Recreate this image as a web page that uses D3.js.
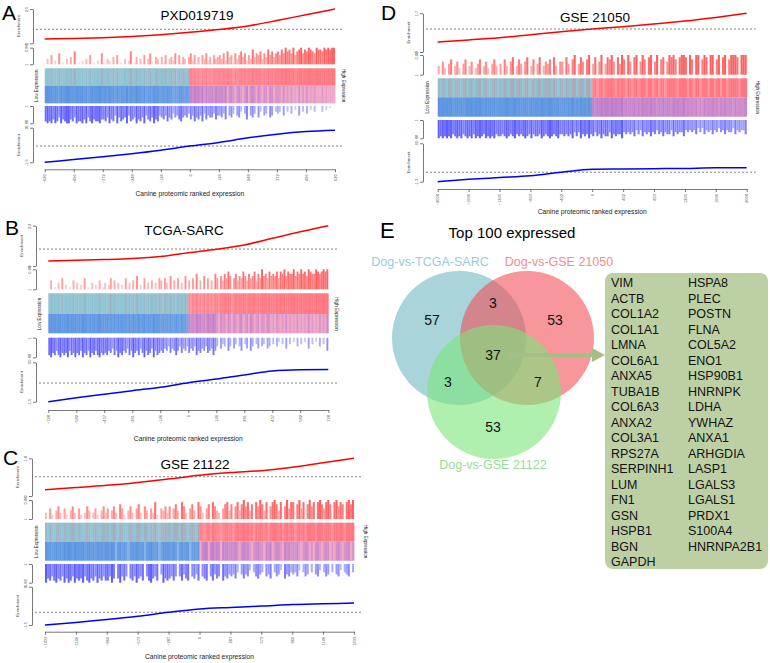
<!DOCTYPE html>
<html><head><meta charset="utf-8">
<script src="https://cdn.jsdelivr.net/npm/d3@7"></script>
<style>body{margin:0;background:#fff}svg{display:block;font-family:"Liberation Sans",Arial,sans-serif}</style>
</head><body><svg id="c" width="770" height="663"></svg>
<script>
// ---------------- DATA ----------------
const panelLetters = ["A", "B", "C", "D"];
const panelTitles = ["PXD019719", "TCGA-SARC", "GSE 21122", "GSE 21050"];
const xLabel = "Canine proteomic ranked expression";

const xTicksA = [-620, -496, -372, -248, -124, 0, 124, 248, 372, 496, 620];
const xTicksB = [-728, -582, -437, -291, -146, 0, 146, 291, 437, 582, 728];
const xTicksC = [-1433, -1146, -860, -573, -287, 0, 287, 573, 860, 1146, 1433];
const xTicksD = [-2008, -1606, -1205, -803, -402, 0, 402, 803, 1205, 1606, 2008];

// enrichment curves (value at each x tick)
const upCurveA = [0.32, 0.35, 0.41, 0.50, 0.63, 0.80, 1.00, 1.26, 1.66, 2.08, 2.50];
const downCurveA = [-1.60, -1.47, -1.34, -1.20, -1.04, -0.85, -0.68, -0.47, -0.30, -0.18, -0.12];
const upCurveB = [0.30, 0.34, 0.38, 0.44, 0.56, 0.79, 1.00, 1.25, 1.65, 2.04, 2.40];
const downCurveB = [-1.50, -1.35, -1.22, -1.08, -0.95, -0.78, -0.64, -0.48, -0.33, -0.28, -0.27];
const upCurveC = [0.30, 0.40, 0.51, 0.65, 0.81, 0.99, 1.12, 1.21, 1.37, 1.59, 1.80];
const downCurveC = [-1.50, -1.40, -1.28, -1.16, -1.00, -0.87, -0.81, -0.76, -0.70, -0.67, -0.64];
const upCurveD = [0.44, 0.53, 0.63, 0.76, 0.89, 1.01, 1.11, 1.23, 1.36, 1.52, 1.70];
const downCurveD = [-1.30, -1.22, -1.16, -1.10, -0.98, -0.88, -0.87, -0.86, -0.85, -0.83, -0.83];

const upMax = [2.5, 2.4, 1.8, 1.7];
const downMin = [-1.6, -1.5, -1.5, -1.3];
const upDash = [1.02, 1.01, 0.92, 1.01];
const downDash = [-0.85, -0.79, -1.0, -0.98];
const upTickLabels = [["0", "2.5"], ["0", "2.4"], ["0", "1.8"], ["0", "1.7"]];
const downTickLabels = [["-1.6", "0"], ["-1.5", "0"], ["-1.5", "0"], ["-1.3", "0"]];
const barTickLabels = ["1", "0.88"];

// barcode heights (0-9), read left to right along the ranking
const redBarsA = "030502060103040701020305010206" + "103204050103027014030503610430" + "415034260514304625140536241534" + "536274516357462538465736485746" + "758697869578968798769887989899";
const blueBarsA = "898979869789978698897968978897" + "786978596876958769786957869785" + "675867465786564758675847566475" + "564705640563047056406305406503" + "430503040205030402030003020100";
const redBarsB = "040103050201040302050103020401" + "302504030205030406020503040305" + "405306040503060405070406050407" + "506475860574658647568475967586" + "768587968779687978698779878989";
const blueBarsB = "897868978796879786978697868978" + "786758697867586976857968759687" + "675647568647564756486756476586" + "405340640530460350640350430540" + "304203050302040302050302040306";
const redBarsC = "305204630520463052036403520463" + "504630752046305730640538205463" + "605740863057408630570864305784" + "706847968470869748068974806958" + "807958079680897589708968708979";
const blueBarsC = "978689786979869787968978697868" + "869707968607869768068976805978" + "768606857806758067806857608675" + "657405756304675406570465307564" + "546304650405630465040563045604";
const redBarsD = "406305704630570460357046305740" + "507406804750680470580465708406" + "608507905860790580690587960859" + "709608906970890690780698970899" + "809709907980990790890799980999";
const blueBarsD = "989898978989789897989879898978" + "878987897878987978879878987897" + "787879686978797868797886978779" + "676768575867686757686775867668" + "565657464756575646575664756557";

// Venn (top 100 expressed)
const vennTitle = "Top 100 expressed";
const vennSets = ["Dog-vs-TCGA-SARC", "Dog-vs-GSE 21050", "Dog-vs-GSE 21122"];
const vennCounts = { T: 57, D: 53, C: 53, TD: 3, TC: 3, DC: 7, TDC: 37 };
const genesCol1 = ["VIM","ACTB","COL1A2","COL1A1","LMNA","COL6A1","ANXA5","TUBA1B","COL6A3","ANXA2","COL3A1","RPS27A","SERPINH1","LUM","FN1","GSN","HSPB1","BGN","GAPDH"];
const genesCol2 = ["HSPA8","PLEC","POSTN","FLNA","COL5A2","ENO1","HSP90B1","HNRNPK","LDHA","YWHAZ","ANXA1","ARHGDIA","LASP1","LGALS3","LGALS1","PRDX1","S100A4","HNRNPA2B1"];

// ---------------- LAYOUT ----------------
const layouts = [
  {axisX:33, x0:44.7, x1:335, cu:[9,43.3], rb:[47.7,64.3], hm:[68.3,85.7,103.3], bb:[106,123.3], cd:[127.7,162.3], xa:169.3, xl:196, title:[197,20], letter:[2,20], low:38, high:342},
  {axisX:36, x0:48.3, x1:328.3, cu:[225.7,266], rb:[269.3,289.3], hm:[293.3,314,333.3], bb:[337.7,357.3], cd:[362.3,401.7], xa:410, xl:441, title:[184,235], letter:[5,235], low:41, high:335},
  {axisX:32, x0:45, x1:354, cu:[458.3,496], rb:[500,519], hm:[522.7,541.7,560.7], bb:[564,582.7], cd:[586.7,625], xa:631.7, xl:659, title:[195,469], letter:[3,465], low:38, high:364},
  {axisX:423, x0:437.7, x1:746.7, cu:[13.3,52], rb:[55,74.7], hm:[78.3,97.3,116.7], bb:[120,138.3], cd:[143.3,181.7], xa:189, xl:214, title:[595,22], letter:[381,20], low:429, high:756}
];

const panels = [
  {ticks:xTicksA, up:upCurveA, down:downCurveA, red:redBarsA, blue:blueBarsA},
  {ticks:xTicksB, up:upCurveB, down:downCurveB, red:redBarsB, blue:blueBarsB},
  {ticks:xTicksC, up:upCurveC, down:downCurveC, red:redBarsC, blue:blueBarsC},
  {ticks:xTicksD, up:upCurveD, down:downCurveD, red:redBarsD, blue:blueBarsD}
];

const svg = d3.select("#c");
const axisCol = "#555";

function styleAxis(sel) {
  sel.selectAll("path,line").attr("stroke", axisCol).attr("stroke-width", 0.8);
  sel.selectAll("text").attr("fill", "#555").attr("font-size", 4);
}
function rotYLabels(sel) {
  sel.selectAll("text").attr("x", null).attr("dy", null).attr("text-anchor", "middle")
     .attr("transform", "translate(-5,0) rotate(-90)");
}

const redScale = d3.interpolateRgb("rgb(255,232,232)", "rgb(255,95,95)");
const blueScale = d3.interpolateRgb("rgb(232,232,255)", "rgb(95,95,255)");

panels.forEach((p, k) => {
  const L = layouts[k];
  const g = svg.append("g");
  const n = p.ticks.length;
  const x = d3.scaleLinear().domain([p.ticks[0], p.ticks[n - 1]]).range([L.x0, L.x1]);

  g.append("text").attr("x", L.letter[0]).attr("y", L.letter[1]).attr("font-size", 21).text(panelLetters[k]);
  g.append("text").attr("x", L.title[0]).attr("y", L.title[1]).attr("text-anchor", "middle").attr("font-size", 13.5).text(panelTitles[k]);

  // --- upper enrichment curve
  const yU = d3.scaleLinear().domain([0, upMax[k]]).range([L.cu[1], L.cu[0]]);
  const axU = g.append("g").attr("transform", `translate(${L.axisX},0)`)
    .call(d3.axisLeft(yU).tickValues([0, upMax[k]]).tickFormat((d, i) => upTickLabels[k][i]).tickSize(3).tickSizeOuter(0));
  styleAxis(axU); rotYLabels(axU);
  g.append("text").attr("transform", `translate(${L.axisX - 13},${(L.cu[0] + L.cu[1]) / 2}) rotate(-90)`)
    .attr("text-anchor", "middle").attr("font-size", 4.3).attr("fill", "#444").text("Enrichment");
  g.append("line").attr("x1", L.axisX + 3).attr("x2", L.x1 + 9).attr("y1", yU(upDash[k])).attr("y2", yU(upDash[k]))
    .attr("stroke", "#666").attr("stroke-width", 0.8).attr("stroke-dasharray", "2,2");
  g.append("path").datum(p.ticks.map((t, i) => [t, p.up[i]]))
    .attr("d", d3.line().x(d => x(d[0])).y(d => yU(d[1])).curve(d3.curveMonotoneX))
    .attr("fill", "none").attr("stroke", "#ff0000").attr("stroke-width", 1.5);

  // --- red barcode
  const redH = p.red.split("").map(Number);
  const blueH = p.blue.split("").map(Number);
  const nb = redH.length;
  const pos = i => p.ticks[0] + (i + 0.5) / nb * (p.ticks[n - 1] - p.ticks[0]);
  const sw = (L.x1 - L.x0) / nb;
  const yRB = d3.scaleLinear().domain([0, 9]).range([L.rb[1], L.rb[0]]);
  const axRB = g.append("g").attr("transform", `translate(${L.axisX},0)`)
    .call(d3.axisLeft(yRB).tickValues([0, 9]).tickFormat((d, i) => barTickLabels[i]).tickSize(3).tickSizeOuter(0));
  styleAxis(axRB); rotYLabels(axRB);
  g.append("g").selectAll("rect").data(redH.map((h, i) => ({h, i})).filter(d => d.h > 0)).join("rect")
    .attr("x", d => x(pos(d.i)) - sw * 0.5).attr("width", sw)
    .attr("y", d => yRB(d.h)).attr("height", d => yRB(0) - yRB(d.h))
    .attr("fill", d => redScale(d.h / 9));

  // --- heat map
  const cyan = "rgb(140,200,215)", mauve = "rgb(200,140,155)";
  const redC = "rgb(255,118,128)", pinkL = "rgb(255,175,182)";
  const blueC = "rgb(92,148,225)", blueL = "rgb(150,195,232)";
  const pinkC = "rgb(240,168,198)", purp = "rgb(185,122,205)";
  g.append("g").selectAll("rect").data(redH).join("rect")
    .attr("x", (d, i) => x(pos(i)) - sw / 2).attr("width", sw + 0.4)
    .attr("y", L.hm[0]).attr("height", L.hm[1] - L.hm[0])
    .attr("fill", (d, i) => pos(i) < 0 ? d3.interpolateRgb(cyan, mauve)(d / 9 * 0.6) : d3.interpolateRgb(redC, pinkL)((9 - d) / 9 * 0.55));
  g.append("g").selectAll("rect").data(blueH).join("rect")
    .attr("x", (d, i) => x(pos(i)) - sw / 2).attr("width", sw + 0.4)
    .attr("y", L.hm[1]).attr("height", L.hm[2] - L.hm[1])
    .attr("fill", (d, i) => pos(i) < 0 ? d3.interpolateRgb(blueC, blueL)((9 - d) / 9 * 0.7) : d3.interpolateRgb(pinkC, purp)(d / 9));
  g.append("text").attr("transform", `translate(${L.low},${L.hm[1]}) rotate(-90)`).attr("text-anchor", "middle")
    .attr("font-size", 4.6).attr("fill", "#222").text("Low Expression");
  g.append("text").attr("transform", `translate(${L.high},${L.hm[1]}) rotate(90)`).attr("text-anchor", "middle")
    .attr("font-size", 4.6).attr("fill", "#222").text("High Expression");

  // --- blue barcode (hanging)
  const yBB = d3.scaleLinear().domain([0, 9]).range([L.bb[0], L.bb[1]]);
  const axBB = g.append("g").attr("transform", `translate(${L.axisX},0)`)
    .call(d3.axisLeft(yBB).tickValues([0, 9]).tickFormat((d, i) => barTickLabels[i]).tickSize(3).tickSizeOuter(0));
  styleAxis(axBB); rotYLabels(axBB);
  g.append("g").selectAll("rect").data(blueH.map((h, i) => ({h, i})).filter(d => d.h > 0)).join("rect")
    .attr("x", d => x(pos(d.i)) - sw * 0.5).attr("width", sw)
    .attr("y", yBB(0)).attr("height", d => yBB(d.h) - yBB(0))
    .attr("fill", d => blueScale(d.h / 9));

  // --- lower enrichment curve
  const yD = d3.scaleLinear().domain([downMin[k], 0]).range([L.cd[1], L.cd[0]]);
  const axD = g.append("g").attr("transform", `translate(${L.axisX},0)`)
    .call(d3.axisLeft(yD).tickValues([downMin[k], 0]).tickFormat((d, i) => downTickLabels[k][i]).tickSize(3).tickSizeOuter(0));
  styleAxis(axD); rotYLabels(axD);
  g.append("text").attr("transform", `translate(${L.axisX - 13},${(L.cd[0] + L.cd[1]) / 2}) rotate(-90)`)
    .attr("text-anchor", "middle").attr("font-size", 4.3).attr("fill", "#444").text("Enrichment");
  g.append("line").attr("x1", L.axisX + 3).attr("x2", L.x1 + 9).attr("y1", yD(downDash[k])).attr("y2", yD(downDash[k]))
    .attr("stroke", "#666").attr("stroke-width", 0.8).attr("stroke-dasharray", "2,2");
  g.append("path").datum(p.ticks.map((t, i) => [t, p.down[i]]))
    .attr("d", d3.line().x(d => x(d[0])).y(d => yD(d[1])).curve(d3.curveMonotoneX))
    .attr("fill", "none").attr("stroke", "#0000ff").attr("stroke-width", 1.5);

  // --- x axis
  const axX = g.append("g").attr("transform", `translate(0,${L.xa})`)
    .call(d3.axisBottom(x).tickValues(p.ticks).tickFormat(d3.format("d")).tickSize(3).tickSizeOuter(0));
  styleAxis(axX);
  axX.selectAll("text").attr("y", 0).attr("dy", "0.32em").attr("text-anchor", "end")
    .attr("transform", "translate(0,5) rotate(-90)");
  g.append("text").attr("x", (L.x0 + L.x1) / 2).attr("y", L.xl).attr("text-anchor", "middle")
    .attr("font-size", 6.7).attr("fill", "#222").text(xLabel);
});

// ---------------- PANEL E (Venn) ----------------
const ge = svg.append("g");
ge.append("text").attr("x", 380).attr("y", 238).attr("font-size", 22).text("E");
ge.append("text").attr("x", 512).attr("y", 238).attr("text-anchor", "middle").attr("font-size", 15).text(vennTitle);

const circles = [
  {cx: 459, cy: 338, fill: "rgb(110,183,193)", label: vennSets[0], lc: "rgb(150,205,215)", lx: 430, ly: 266},
  {cx: 527, cy: 338, fill: "rgb(242,80,88)", label: vennSets[1], lc: "rgb(245,140,146)", lx: 559, ly: 266},
  {cx: 494, cy: 392, fill: "rgb(122,230,122)", label: vennSets[2], lc: "rgb(150,220,150)", lx: 493, ly: 469}
];
ge.selectAll("circle").data(circles).join("circle")
  .attr("cx", d => d.cx).attr("cy", d => d.cy).attr("r", 67)
  .attr("fill", d => d.fill).attr("fill-opacity", 0.6);
ge.selectAll("text.setlab").data(circles).join("text").attr("class", "setlab")
  .attr("x", d => d.lx).attr("y", d => d.ly).attr("text-anchor", "middle")
  .attr("font-size", 12.5).attr("fill", d => d.lc).text(d => d.label);

const numPos = [
  {v: vennCounts.T, x: 432, y: 320}, {v: vennCounts.D, x: 555, y: 320},
  {v: vennCounts.TD, x: 493, y: 303}, {v: vennCounts.TDC, x: 493, y: 355},
  {v: vennCounts.TC, x: 448, y: 382}, {v: vennCounts.DC, x: 538, y: 382},
  {v: vennCounts.C, x: 493, y: 427}
];
ge.selectAll("text.num").data(numPos).join("text").attr("class", "num")
  .attr("x", d => d.x).attr("y", d => d.y).attr("dy", "0.35em").attr("text-anchor", "middle")
  .attr("font-size", 14).attr("fill", "#111").text(d => d.v);

// arrow
ge.append("line").attr("x1", 508).attr("x2", 594).attr("y1", 355).attr("y2", 355)
  .attr("stroke", "#a4bf86").attr("stroke-width", 4);
ge.append("path").attr("d", "M592,348 L605,355 L592,362 Z").attr("fill", "#a4bf86");

// gene box
ge.append("rect").attr("x", 605).attr("y", 273).attr("width", 163).attr("height", 296).attr("rx", 8)
  .attr("fill", "#bdd0a4");
const rowY = d3.scaleLinear().domain([0, 18]).range([287, 566]);
ge.selectAll("text.g1").data(genesCol1).join("text").attr("class", "g1")
  .attr("x", 611).attr("y", (d, i) => rowY(i)).attr("font-size", 12.5).attr("fill", "#111").text(d => d);
ge.selectAll("text.g2").data(genesCol2).join("text").attr("class", "g2")
  .attr("x", 688).attr("y", (d, i) => rowY(i)).attr("font-size", 12.5).attr("fill", "#111").text(d => d);
</script></body></html>
